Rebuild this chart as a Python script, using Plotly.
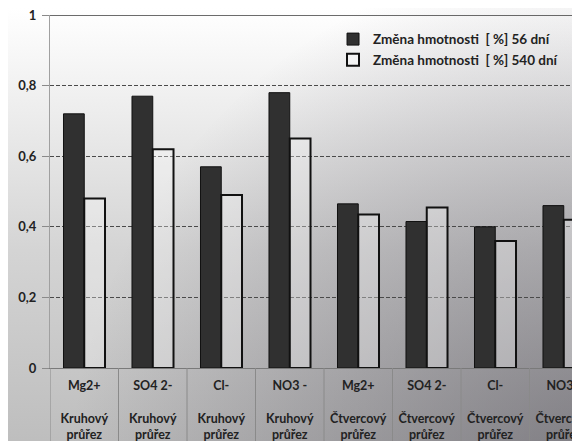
import base64
import plotly.graph_objects as go

# ---- data ----
ions = ["Mg2+", "SO4 2-", "Cl-", "NO3 -", "Mg2+", "SO4 2-", "Cl-", "NO3 -"]
sections = ["Kruhový<br>průřez"] * 4 + ["Čtvercový<br>průřez"] * 4
series_56 = [0.72, 0.77, 0.57, 0.78, 0.465, 0.415, 0.40, 0.46]
series_540 = [0.48, 0.62, 0.49, 0.65, 0.435, 0.455, 0.36, 0.42]
name_56 = "Změna hmotnosti\u00a0 [ %] 56 dní"
name_540 = "Změna hmotnosti\u00a0 [ %] 540 dní"
y_ticks = [0, 0.2, 0.4, 0.6, 0.8, 1]

W, H = 580, 441
ML, MT, MB, MR = 42, 7, 81, 8
plot_w = W - ML - MR
plot_h = H - MT - MB
group_px = 68.5
x_end = -0.5 + plot_w / group_px

positions = list(range(len(ions)))
ticktext = [f"{a}<br><br>{b}" for a, b in zip(ions, sections)]

font_family = "Lato, 'Open Sans', sans-serif"

svg = f'''<svg xmlns="http://www.w3.org/2000/svg" width="{W}" height="{H}" viewBox="0 0 {W} {H}" preserveAspectRatio="none">
<defs>
<linearGradient id="v" x1="0" y1="0" x2="0" y2="1">
<stop offset="0" stop-color="#ffffff"/><stop offset="0.12" stop-color="#f6f6f6"/><stop offset="0.55" stop-color="#d4d4d4"/><stop offset="1" stop-color="#bdbdbd"/></linearGradient>
<radialGradient id="r" gradientUnits="userSpaceOnUse" cx="600" cy="480" r="540">
<stop offset="0" stop-color="#383440" stop-opacity="0.5"/><stop offset="1" stop-color="#383440" stop-opacity="0"/></radialGradient>
</defs>
<rect width="{W}" height="{H}" fill="url(#v)"/><rect width="{W}" height="{H}" fill="url(#r)"/></svg>'''
bg_uri = "data:image/svg+xml;base64," + base64.b64encode(svg.encode("utf-8")).decode("ascii")

fig = go.Figure()
fig.add_trace(go.Bar(
    x=positions, y=series_56, name=name_56,
    marker=dict(color="#303030", line=dict(color="#111111", width=1)),
))
fig.add_trace(go.Bar(
    x=positions, y=series_540, name=name_540,
    marker=dict(color="rgba(255,255,255,0.3)", line=dict(color="#111111", width=2)),
))

# category dividers below the axis, and solid top border line
shapes = []
for i in range(len(ions) + 1):
    shapes.append(dict(type="line", xref="x", yref="paper",
                       x0=i - 0.5, x1=i - 0.5, y0=0, y1=-MB / plot_h,
                       line=dict(color="#8a8a8a", width=1)))
shapes.append(dict(type="line", xref="paper", yref="y", x0=0, x1=1,
                   y0=y_ticks[-1], y1=y_ticks[-1], line=dict(color="#3a3a3a", width=1.5)))

fig.update_layout(
    width=W, height=H,
    margin=dict(l=ML, r=MR, t=MT, b=MB, autoexpand=False),
    paper_bgcolor="rgba(0,0,0,0)",
    plot_bgcolor="rgba(0,0,0,0)",
    separators=", ",
    barmode="group",
    bargap=0.394,
    bargroupgap=0,
    font=dict(family=font_family, size=12, color="#222222"),
    images=[dict(source=bg_uri, xref="paper", yref="paper",
                 x=-ML / plot_w, y=1 + MT / plot_h,
                 sizex=W / plot_w, sizey=H / plot_h,
                 sizing="stretch", layer="below", xanchor="left", yanchor="top")],
    shapes=shapes,
    legend=dict(x=0.534, y=0.975, xanchor="left", yanchor="top",
                bgcolor="rgba(0,0,0,0)", borderwidth=0,
                font=dict(family=font_family, size=13.5, color="#222222", weight="bold"),
                itemwidth=30, tracegroupgap=0),
    xaxis=dict(
        range=[-0.5, x_end], tickmode="array", tickvals=positions, ticktext=ticktext,
        showgrid=False, zeroline=False, showline=True, linecolor="#7a7a7a", linewidth=1,
        ticks="", tickfont=dict(family=font_family, size=12.5, color="#222222", weight="bold"),
        tickangle=0, fixedrange=True, automargin=False, ticklabeloverflow="allow",
        ticklabelstandoff=6,
    ),
    yaxis=dict(
        range=[0, 1], tickmode="array", tickvals=y_ticks,
        showgrid=True, gridcolor="#4a4a4a", griddash="4px,2px", gridwidth=1,
        zeroline=False, showline=True, linecolor="#a0a0a0", linewidth=1,
        ticks="outside", ticklen=7, tickcolor="#8a8a8a",
        tickfont=dict(family=font_family, size=13, color="#222222", weight="bold"),
        ticklabelstandoff=3, fixedrange=True, automargin=False, ticklabeloverflow="allow",
    ),
)

fig.write_html("out.html")
